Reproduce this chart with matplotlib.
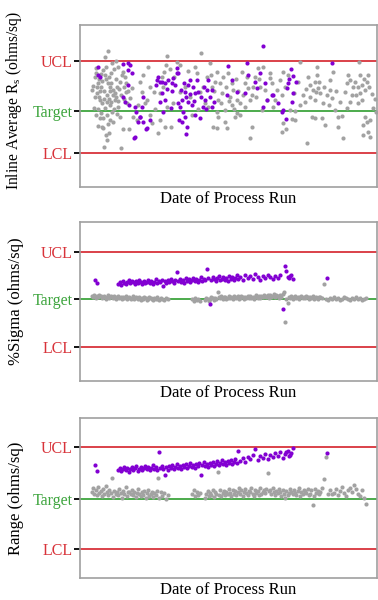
import matplotlib
matplotlib.use("Agg")
import matplotlib.pyplot as plt

# ---------------- data ----------------
# x = day index of process run (0..297); y values in arbitrary chart units
# Panel 1: Inline Average Rs
p1_limits = {"UCL": 126, "Target": 76, "LCL": 34}
p1_gray_x = [28,25,26,16,16,15,31,33,35,37,40,42,43,45,17,20,22,25,27,23,30,33,22,29,26,27,24,41,43,49,53,57,67,65,72,78,80,85,91,87,86,82,83,80,87,93,50,47,52,38,32,20,23,
             121,130,117,120,132,137,135,140,142,138,137,138,133,137,145,147,155,160,148,152,153,157,160,162,165,168,172,170,172,170,178,183,175,180,185,187,182,190,192,125,128,157,152,165,145,
             220,237,253,279,190,203,200,197,202,195,193,210,215,220,223,225,228,230,233,235,237,238,240,235,243,232,235,242,245,250,250,252,249,255,258,262,258,263,227,203,202,206,212,215,267,270,272,270,267,275,278,282,280,280,288,287,285,282,278,285,287,290,283,288,283,290,293,296,
             100,105,110,112,118,123,127,115,108,60,63,68,70,74,62,58,75,70,
             18,21,24,27,29,31,19,22,26,29,31,34,36,39,41,44,46,30,35,32,36,38,13,14,16,18,28,
             17,19,21,23,25,28,30,33,36,38,20,24,27,30,34,37,40,15,18,21,44,46,48,12,
             84,90,94,97,100,
             131,134,143,146,150,156,158,163,167,173,176,179,141,149,154,
             205,208,214,218,226,230,236,239,244,247,256,260,265,268,273,276,284,289,292,295]
p1_gray_y = [136,130,120,119,114,110,104,97,94,100,105,112,115,110,94,87,84,79,72,69,67,65,60,54,52,47,40,39,58,58,70,67,87,84,64,54,67,60,60,131,122,110,100,94,80,84,89,84,99,80,75,69,59,
             134,124,114,95,100,115,105,104,94,87,75,70,60,59,65,59,70,72,114,104,97,87,84,115,104,99,92,87,60,49,119,120,110,100,97,87,77,114,104,84,80,74,82,80,77,
             125,120,115,125,109,115,107,97,92,87,80,77,76,82,92,85,110,102,97,105,112,99,94,87,84,70,69,69,62,107,97,89,82,77,70,71,60,49,44,64,55,58,68,67,104,107,92,85,79,105,100,102,94,112,112,105,97,87,84,70,65,67,62,55,52,50,79,75,
             95,100,90,72,78,100,110,120,116,105,112,120,100,95,95,82,78,72,
             104,100,96,92,88,85,90,106,108,110,114,118,108,98,92,88,95,96,87,124,126,120,101,79,72,61,63,
             100,108,113,117,112,104,100,92,90,86,96,88,85,82,78,73,70,90,78,74,100,104,96,97,
             115,118,110,125,122,
             112,96,110,100,90,108,96,92,110,100,90,108,84,86,78,
             100,112,94,105,98,90,95,105,100,92,96,85,95,112,100,92,108,100,93,88]
p1_purple_x = [18,18,20,43,50,48,52,48,43,45,49,56,62,60,58,63,67,70,55,78,82,85,88,92,95,97,80,85,91,83,82,76,98,99,97,98,
               110,108,113,117,115,105,102,108,112,100,103,105,102,107,106,115,120,125,127,128,132,123,132,148,152,157,147,167,168,165,175,180,183,185,187,192,183,177,
               211,213,209,216,208,207,213,212,193,198,203,202,206,252,48,54,63,55,60,66,77,80,87,93,92,
               101,104,106,110,114,118,121,124,126,130,134]
p1_purple_y = [120,112,110,123,122,117,114,102,90,85,82,75,80,70,65,65,59,67,50,110,105,104,107,104,102,114,85,87,79,75,94,102,84,67,119,114,
               107,102,100,107,94,95,87,85,82,80,75,70,65,60,53,72,69,87,97,107,97,80,80,121,107,95,92,124,112,94,105,114,141,104,87,92,80,99,
               118,111,108,105,104,99,94,85,92,84,77,75,68,124,124,49,90,80,70,58,107,105,98,109,96,
               97,104,90,93,86,95,90,100,78,90,85]

# Panels 2 and 3 share run dates
p23_gray_x = [12,13,14,15.5,16.5,18,19,20.5,21.5,23,24,25.5,26.5,28,29,30.5,31.5,33,34,35.5,36.5,38,39,40.5,41.5,
              43,44,45.5,46.5,48,49,50.5,51.5,53,54,55.5,56.5,58,59,60.5,61.5,63,64,65.5,66.5,68,69,70.5,71.5,
              73,74,75.5,76.5,78,79,80.5,82,84,86,88,
              112,113.5,115,116.5,118,119.5,
              125,126,127.5,128.5,130,131,132.5,133.5,135,136,137.5,138.5,140,141,142.5,143.5,145,146,147.5,148.5,
              150,151,152.5,153.5,155,156,157.5,158.5,160,161,162.5,163.5,165,166,167.5,168.5,170,171,172.5,173.5,
              175,176,177.5,178.5,180,181,182.5,183.5,185,186,187.5,188.5,190,191,192.5,193.5,195,196,197.5,198.5,
              200,201,202.5,203.5,205,206,207.5,208.5,210,211,212.5,213.5,215,216,217.5,218.5,220,221,222.5,223.5,
              225,226,227.5,228.5,230,231,232.5,233.5,235,236,237.5,238.5,
              240,242,244,246,248,250,252,254,256,258,260,262,264,266,268,270,272,274,276,278,280,282,284,286]
p23_purple_x = [15,17,
                38,39.5,41,42.5,44,45.5,47,48.5,50,51.5,53,54.5,56,57.5,59,60.5,62,63.5,65,66.5,
                68,69.5,71,72.5,74,75.5,77,78.5,80,81.5,83,84.5,86,87.5,89,90.5,92,93.5,95,96.5,
                98,99.5,101,102.5,104,105.5,107,108.5,110,111.5,113,114.5,116,117.5,119,120.5,122,123.5,125,126.5,
                128,129.5,131,132.5,134,135.5,137,138.5,140,141.5,143,144.5,146,147.5,149,150.5,152,153.5,155,156.5,158,
                160,162.5,165,167.5,170,172.5,175,177.5,180,182.5,185,187.5,190,192.5,195,197.5,200,202.5,205,207.5,210,212.5,
                205.8,208.8,211.2,247]

# Panel 2: %Sigma
p2_limits = {"UCL": 129, "Target": 82, "LCL": 34}
p2_gray_y = [85,84,86,83,85,84,86,85,83,84, 85,82,84,86,83,85,84,83,85,82, 84,85,83,84,82,84,83,85,82,83,
             84,82,83,85,82,84,83,82,84,81, 83,82,84,83,81,82,84,83,82,81, 83,82,84,82,81,83,82,81,83,82,
             82,80,83,81,82,80,
             81,83,82,80, 82,84,83,81, 83,82,89,84, 83,85,82,84, 84,82,83,85, 83,84,82,85, 84,83,85,82, 83,85,84,82,
             84,83,85,83, 85,83,84,82, 84,86,83,85, 83,85,84,86, 85,84,86,83, 86,84,85,87, 84,86,85,83, 86,84,87,89,
             59,82,78,84, 83,85,82,84, 85,83,84,82, 84,85,83,84, 83,85,84,82, 84,83,85,82, 83,84,82,84,
             84,83,97,82,81,83,82,84,82,83,81,82,84,83,82,81,83,82,84,82,83,81,82,83]
p2_purple_y = [101,98,
               97,99,96,100,98,97,99,101,98,100, 99,97,100,98,101,99,97,100,98,99,
               101,98,100,97,99,102,98,100,99,101, 95,100,98,101,99,102,100,98,101,109,
               100,102,99,101,98,103,100,102,99,101, 103,100,102,99,101,104,100,102,101,112,
               103,77,101,104,102,100,103,105,101,102, 104,101,103,100,105,102,104,101,103,106, 102,
               104,101,106,103,105,102,107,104,101,105,103,106,104,102,105,103,106,72,115,104,105,102,
               110,103,106,103]

# Panel 3: Range
p3_limits = {"UCL": 131, "Target": 79, "LCL": 29}
p3_gray_y = [86,90,84,88,83,91,85,87,82,89, 84,92,86,83,88,85,100,81,87,84, 86,83,89,85,80,87,84,91,82,86,
             86,84,88,83,86,81,85,89,84,82, 86,83,87,80,85,88,82,84,86,81, 85,83,87,100,80,86,82,85,79,83,
             84,88,82,86,83,85,
             80,84,87,82, 85,83,88,81, 86,84,106,83, 88,82,85,87, 83,86,84,89, 85,82,88,84, 87,83,86,90, 84,88,82,86,
             89,85,83,87, 86,90,84,82, 88,85,87,83, 90,84,86,88, 85,89,105,87, 88,84,90,86, 83,87,85,89, 86,82,88,84,
             80,87,83,85, 89,86,84,88, 85,83,87,90, 82,86,84,88, 87,85,89,83, 84,88,73,82, 89,85,87,84,
             86,90,99,121,84,88,84,85,89,83,87,91,85,82,88,90,86,93,89,84,82,88,80,74]
p3_purple_y = [113,107,
               108,110,107,109,111,108,110,106,109,111, 108,110,112,107,109,111,108,110,112,109,
               111,108,110,113,109,111,108,126,110,112, 109,103,111,108,112,110,113,109,111,114,
               110,112,109,113,111,114,110,112,115,111, 113,110,114,112,115,103,113,116,112,114,
               111,115,113,116,112,114,117,113,115,118, 114,116,113,117,115,118,114,116,119,115, 127,
               117,120,116,121,119,123,129,118,122,120,124,119,123,121,125,122,126,120,124,127,123,130,
               126,122,125,125]

x_label = "Date of Process Run"
y_labels = [r"Inline Average R$_\mathrm{s}$ (ohms/sq)", "%Sigma (ohms/sq)", "Range (ohms/sq)"]

# ---------------- style ----------------
plt.rcParams["font.family"] = ["Liberation Serif", "DejaVu Serif"]
plt.rcParams["mathtext.fontset"] = "custom"
plt.rcParams["mathtext.rm"] = "Liberation Serif"
plt.rcParams["mathtext.it"] = "Liberation Serif:italic"

GRAY = "#a2a2a2"
PURPLE = "#8200d2"
RED = "#d8333a"
GREEN = "#3ea53e"
label_colors = {"UCL": RED, "Target": GREEN, "LCL": RED}

fig = plt.figure(figsize=(3.78, 6.0), dpi=100)
W, H = 378, 600
boxes = [(80, 25, 377, 187), (80, 222, 377, 381), (80, 418, 377, 578)]
ylims = [(0, 162), (0, 159), (0, 160)]
ylabel_sizes = [11.2, 12, 12]
ylabel_ypos = [0.53, 0.5, 0.5]

panels = [
    (p1_gray_x, p1_gray_y, p1_purple_x, p1_purple_y, p1_limits),
    (p23_gray_x, p2_gray_y, p23_purple_x, p2_purple_y, p2_limits),
    (p23_gray_x, p3_gray_y, p23_purple_x, p3_purple_y, p3_limits),
]

for i, (gx, gy, px, py, lim) in enumerate(panels):
    l, t, r, b = boxes[i]
    ax = fig.add_axes([l / W, 1 - b / H, (r - l) / W, (b - t) / H])
    for name, val in lim.items():
        ax.axhline(val, color=label_colors[name], lw=1.3, zorder=1)
    ax.scatter(gx, gy, s=9, color=GRAY, linewidths=0, zorder=2)
    ax.scatter(px, py, s=9, color=PURPLE, linewidths=0, zorder=3)
    ax.set_xlim(0, 297)
    ax.set_ylim(*ylims[i])
    ax.set_xticks([])
    names = list(lim.keys())
    ax.set_yticks([lim[n] for n in names])
    ax.set_yticklabels(names, fontsize=11.5)
    ax.tick_params(axis="y", length=4, width=1.3, pad=1)
    for tick, n in zip(ax.yaxis.get_major_ticks(), names):
        tick.tick1line.set_color(label_colors[n])
        tick.label1.set_color(label_colors[n])
    for sp in ax.spines.values():
        sp.set_color("#a0a0a0")
        sp.set_linewidth(1.2)
    ax.set_xlabel(x_label, fontsize=12, labelpad=3)
    ax.set_ylabel(y_labels[i], fontsize=ylabel_sizes[i])
    ax.yaxis.set_label_coords(-0.188, ylabel_ypos[i])

fig.savefig("out.png", dpi=100)
